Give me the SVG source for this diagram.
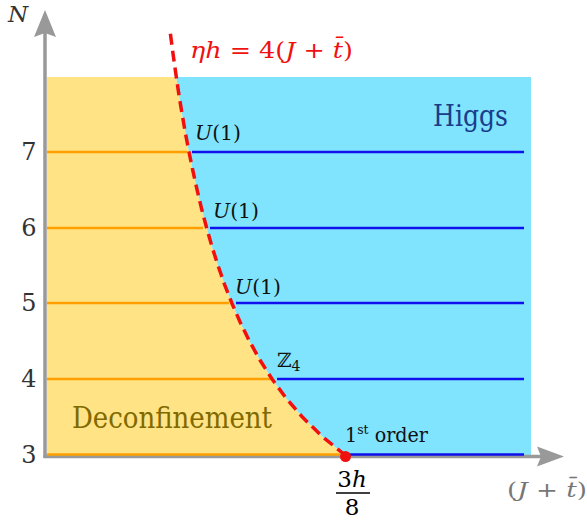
<svg xmlns="http://www.w3.org/2000/svg" width="587" height="521" viewBox="0 0 587 521" font-family="'DejaVu Serif', 'Liberation Serif', serif">
<style>
text{font-family:"DejaVu Serif","Liberation Serif",serif;}
.it{font-style:italic;}
.tick{font-size:24px;fill:#333;text-anchor:middle;}
.lbl{font-size:20px;fill:#111;}
.orange{stroke:#FFA000;stroke-width:2.5;fill:none;}
.blue{stroke:#1010EE;stroke-width:2.5;fill:none;}
.axis{stroke:#999;stroke-width:3.5;fill:none;}
</style>
<rect width="587" height="521" fill="#fff"/>
<g id="regions">
<polygon id="deconfinement-region" fill="#FFE384" points="47,77 176.2,77 179.0,95.2 182.1,114.1 185.4,133.1 189.0,152 192.9,170.9 197.1,189.9 201.6,208.8 206.6,227.75 212.0,246.7 218.0,265.6 224.6,284.6 232.0,303.5 240.3,322.4 249.6,341.4 260.1,360.3 272.2,379.25 286.1,398.2 302.4,417.1 321.8,436.1 345,455 47,455"/>
<polygon id="higgs-region" fill="#80E4FE" points="176.2,77 531,77 531,455 345,455 321.8,436.1 302.4,417.1 286.1,398.2 272.2,379.25 260.1,360.3 249.6,341.4 240.3,322.4 232.0,303.5 224.6,284.6 218.0,265.6 212.0,246.7 206.6,227.75 201.6,208.8 197.1,189.9 192.9,170.9 189.0,152 185.4,133.1 182.1,114.1 179.0,95.2"/>
</g>
<g id="axes">
<line class="axis" x1="45" y1="458" x2="45" y2="30"/>
<polygon fill="#999" points="45,10 56,37 45,33 34,37"/>
<line class="axis" x1="43.5" y1="456.5" x2="545" y2="456.5"/>
<polygon fill="#999" points="564,456.5 537,446.5 541,456.5 537,466.5"/>
</g>
<g id="connectors">
<line class="orange" x1="47" y1="152" x2="187" y2="152"/>
<line class="blue" x1="192" y1="152" x2="524" y2="152"/>
<line class="orange" x1="47" y1="228" x2="203" y2="228"/>
<line class="blue" x1="210" y1="228" x2="524" y2="228"/>
<line class="orange" x1="47" y1="303" x2="229" y2="303"/>
<line class="blue" x1="236" y1="303" x2="524" y2="303"/>
<line class="orange" x1="47" y1="379" x2="271" y2="379"/>
<line class="blue" x1="277" y1="379" x2="524" y2="379"/>
<line class="orange" x1="47" y1="454.5" x2="340" y2="454.5"/>
<line class="blue" x1="350" y1="454.5" x2="524" y2="454.5"/>
<polyline id="transition-line" fill="none" stroke="#F01010" stroke-width="3.5" stroke-dasharray="11 6" points="170.4,33.8 173.5,57.3 176.2,76.25 179.0,95.2 182.1,114.1 185.4,133.1 189.0,152 192.9,170.9 197.1,189.9 201.6,208.8 206.6,227.75 212.0,246.7 218.0,265.6 224.6,284.6 232.0,303.5 240.3,322.4 249.6,341.4 260.1,360.3 272.2,379.25 286.1,398.2 302.4,417.1 321.8,436.1 345,455"/>
<circle id="critical-point" cx="345.5" cy="456.5" r="5.5" fill="#F01010"/>
</g>
<g id="axis-labels">
<text class="it" x="8" y="22" font-size="23" fill="#333">N</text>
<text class="tick" x="29" y="160">7</text>
<text class="tick" x="29" y="236">6</text>
<text class="tick" x="29" y="311">5</text>
<text class="tick" x="29" y="387">4</text>
<text class="tick" x="29" y="463">3</text>
<text x="507" y="497" font-size="21" fill="#777" textLength="80" lengthAdjust="spacingAndGlyphs">(<tspan class="it">J</tspan> + <tspan class="it">t̄</tspan>)</text>
<g id="fraction">
<text x="352" y="487" font-size="23" fill="#000" text-anchor="middle">3<tspan class="it">h</tspan></text>
<line x1="336" y1="493" x2="370" y2="493" stroke="#000" stroke-width="1.6"/>
<text x="352" y="515" font-size="23" fill="#000" text-anchor="middle">8</text>
</g>
</g>
<g id="label-eta">
<text x="190" y="58" font-size="22" fill="#F01010" textLength="163" lengthAdjust="spacingAndGlyphs"><tspan class="it">ηh</tspan> = 4(<tspan class="it">J</tspan> + <tspan class="it">t̄</tspan>)</text>
</g>
<g id="label-higgs">
<text x="433" y="126" font-size="29" fill="#1A3C8C" textLength="75" lengthAdjust="spacingAndGlyphs">Higgs</text>
</g>
<g id="label-deconfinement">
<text x="72" y="428" font-size="29" fill="#806A00" textLength="200" lengthAdjust="spacingAndGlyphs">Deconfinement</text>
</g>
<g id="label-u1-7">
<text class="lbl" x="195" y="140" textLength="46" lengthAdjust="spacingAndGlyphs"><tspan class="it">U</tspan>(1)</text>
</g>
<g id="label-u1-6">
<text class="lbl" x="213" y="218" textLength="46" lengthAdjust="spacingAndGlyphs"><tspan class="it">U</tspan>(1)</text>
</g>
<g id="label-u1-5">
<text class="lbl" x="235" y="294" textLength="46" lengthAdjust="spacingAndGlyphs"><tspan class="it">U</tspan>(1)</text>
</g>
<g id="label-z4">
<text class="lbl" x="277" y="367">ℤ<tspan font-size="14" dy="4">4</tspan></text>
</g>
<g id="label-first-order">
<text class="lbl" x="345" y="442" textLength="83" lengthAdjust="spacingAndGlyphs">1<tspan font-size="13" dy="-8">st</tspan><tspan dy="8"> order</tspan></text>
</g>
</svg>
